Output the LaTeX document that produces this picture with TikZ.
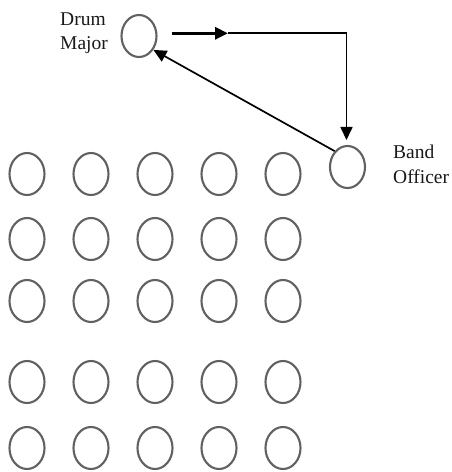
\documentclass[tikz,border=0pt]{standalone}
\usepackage{fontspec}
\setmainfont{Liberation Serif}
\usetikzlibrary{arrows.meta,shapes.geometric}
\begin{document}
\begin{tikzpicture}[x=1pt,y=1pt,
  member/.style={ellipse,draw=black!62,line width=2.1pt,minimum width=35pt,minimum height=42pt,inner sep=0pt},
  lbl/.style={anchor=north west,inner sep=0pt,align=left,font=\fontsize{19.5}{24.5}\selectfont,text=black!90},
  arr/.style={line width=1.7pt,-{Triangle[length=13pt,width=12pt]}}]
\useasboundingbox (0,0) rectangle (451,472);
\node[member] (dm) at (139,436) {};
\node[member] (bo) at (347.5,305) {};
\node[lbl] (dmt) at (60,459.5) {Drum\\Major};
\node[lbl] (bot) at (393,327) {Band\\Officer};
\foreach \r/\y in {1/298,2/233,3/171,4/90,5/24}{
  \foreach \c/\x in {1/27,2/91,3/155,4/219,5/283}{
    \node[member] (m\r\c) at (\x,\y) {};
  }
}
\coordinate (s) at (171.7,438.7);
\coordinate (a) at (228,438.7);
\coordinate (c) at (346.5,438.7);
\coordinate (d) at (346.5,332);
\draw[arr,line width=3pt] (s) -- (a);
\draw[arr] (a) -- (c) -- (d);
\draw[arr] (bo.129) -- (dm.-44);
\end{tikzpicture}
\end{document}
